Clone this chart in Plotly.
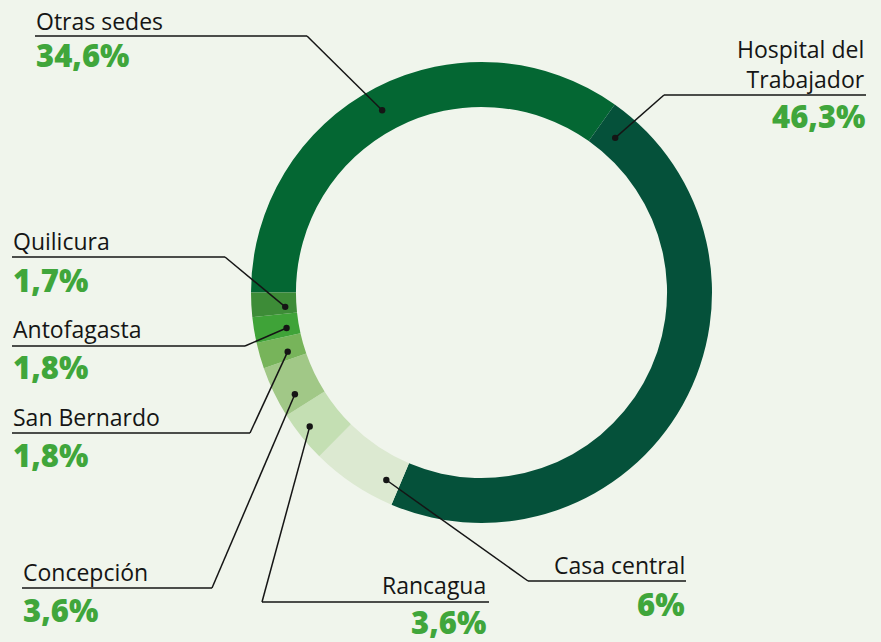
import math
import plotly.graph_objects as go

# Share by site (%), in drawing order starting at 9 o'clock, clockwise
labels = ["Otras sedes", "Hospital del Trabajador", "Casa central", "Rancagua",
          "Concepción", "San Bernardo", "Antofagasta", "Quilicura"]
values = [34.6, 46.3, 6, 3.6, 3.6, 1.8, 1.8, 1.7]
value_text = ["34,6%", "46,3%", "6%", "3,6%", "3,6%", "1,8%", "1,8%", "1,7%"]
name_text = ["Otras sedes", "Hospital del<br>Trabajador", "Casa central", "Rancagua",
             "Concepción", "San Bernardo", "Antofagasta", "Quilicura"]
colors = ["#046733", "#05513a", "#dce9d1", "#c4dfb3",
          "#a1c887", "#77b45a", "#3fa338", "#3d8c37"]

W, H = 881, 642
BG = "#f0f5ec"
GREEN = "#40a63b"
INK = "#151515"

# ring geometry (pixels)
CX, CY = 481.5, 292.5
R_OUT = 230.5
HOLE = 0.805
R_IN = R_OUT * HOLE
START = 270.0  # degrees clockwise from 12 o'clock

# where each leader dot sits: along the slice (0 = start, 1 = end)
# and across the ring (0 = inner edge, 1 = outer edge)
dot_frac = [0.49, 0.033, 0.18, 0.56, 0.28, 0.34, 0.36, 0.32]
dot_depth = [0.49, 0.42, 0.55, 0.72, 0.6, 0.38, 0.28, 0.25]

# label layout: text anchor x, name centre y, value centre y, alignment,
# underline span and its height
label_layout = [
    dict(x=35, ny=21, vy=55, align="left", ul=(35, 307), uy=36),
    dict(x=866, ny=63.5, vy=116, align="right", ul=(664, 866), uy=95),
    dict(x=686, ny=565, vy=604, align="right", ul=(528, 686), uy=581),
    dict(x=487, ny=585, vy=622, align="right", ul=(262, 489), uy=602),
    dict(x=22, ny=571.5, vy=610, align="left", ul=(22, 212), uy=588),
    dict(x=12, ny=416.5, vy=454.5, align="left", ul=(12, 250), uy=433),
    dict(x=12, ny=328.5, vy=367, align="left", ul=(12, 245), uy=346),
    dict(x=12, ny=241, vy=280, align="left", ul=(12, 225), uy=257),
]


def px(x):
    return x / W


def py(y):
    return 1 - y / H


fig = go.Figure()
fig.add_trace(go.Pie(
    labels=labels, values=values, sort=False, direction="clockwise",
    rotation=START, hole=HOLE, textinfo="none", hoverinfo="label+percent",
    marker=dict(colors=colors, line=dict(width=0)),
    domain=dict(x=[px(CX - R_OUT), px(CX + R_OUT)],
                y=[py(CY + R_OUT), py(CY - R_OUT)]),
    showlegend=False,
))

total = sum(values)
shapes, annotations = [], []
cum = 0.0
for i, v in enumerate(values):
    span = v / total * 360
    ang = math.radians(START + cum + dot_frac[i] * span)
    cum += span
    r = R_IN + dot_depth[i] * (R_OUT - R_IN)
    dx = CX + r * math.sin(ang)
    dy = CY - r * math.cos(ang)

    lay = label_layout[i]
    x0, x1 = lay["ul"]
    uy = lay["uy"]
    ex = x1 if lay["align"] == "left" else x0
    line = dict(color=INK, width=1.5)
    # underline
    shapes.append(dict(type="line", xref="paper", yref="paper",
                       x0=px(x0), x1=px(x1), y0=py(uy), y1=py(uy), line=line))
    # leader to the ring
    shapes.append(dict(type="line", xref="paper", yref="paper",
                       x0=px(ex), y0=py(uy), x1=px(dx), y1=py(dy), line=line))
    # dot
    rd = 3.2
    shapes.append(dict(type="circle", xref="paper", yref="paper",
                       x0=px(dx - rd), x1=px(dx + rd), y0=py(dy + rd), y1=py(dy - rd),
                       fillcolor=INK, line=dict(width=0)))

    annotations.append(dict(
        x=px(lay["x"]), y=py(lay["ny"]), xref="paper", yref="paper",
        xanchor=lay["align"], yanchor="middle", align=lay["align"],
        text=name_text[i], showarrow=False, borderpad=0,
        font=dict(family="Open Sans", size=23, color=INK)))
    annotations.append(dict(
        x=px(lay["x"]), y=py(lay["vy"]), xref="paper", yref="paper",
        xanchor=lay["align"], yanchor="middle", align=lay["align"],
        text=value_text[i], showarrow=False, borderpad=0,
        font=dict(family="Open Sans", size=31, color=GREEN, weight=800)))

fig.update_layout(
    width=W, height=H, margin=dict(l=0, r=0, t=0, b=0),
    paper_bgcolor=BG, plot_bgcolor=BG,
    shapes=shapes, annotations=annotations,
)

fig.write_html("out.html")
